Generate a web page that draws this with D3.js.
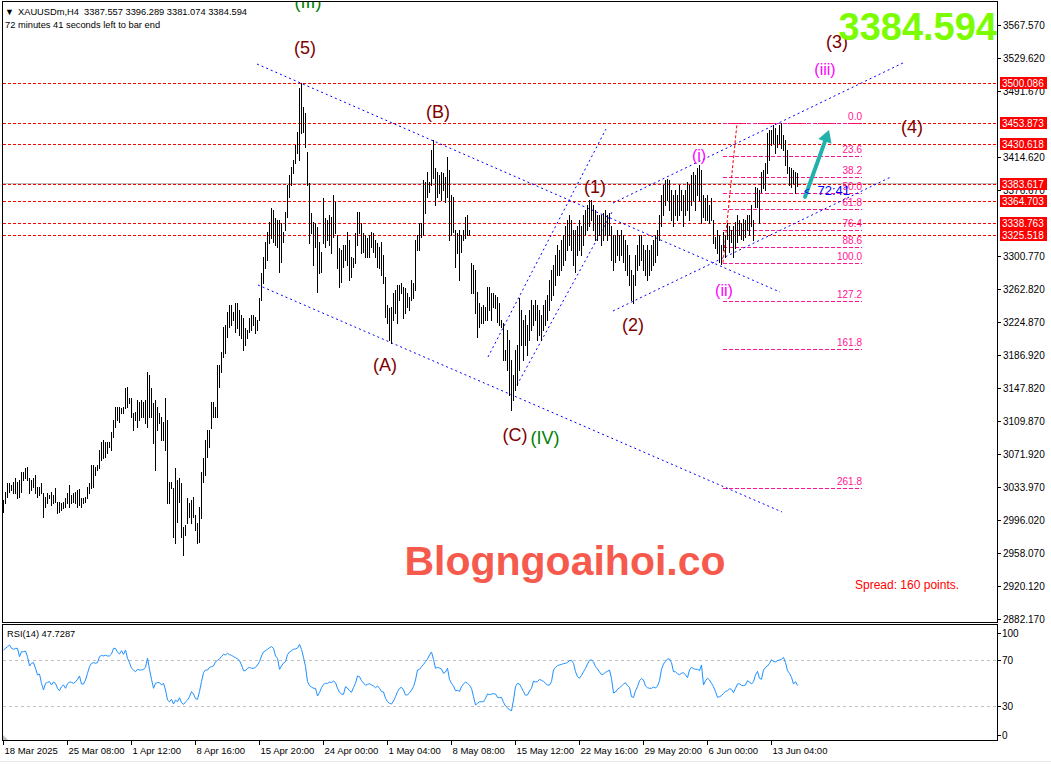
<!DOCTYPE html>
<html>
<head>
<meta charset="utf-8">
<script src="https://cdn.jsdelivr.net/npm/d3@7"></script>
<style>
body { margin: 0; background: #fff; }
svg text { font-family: "Liberation Sans", Arial, sans-serif; }
</style>
</head>
<body>
<svg id="chart" width="1051" height="764"></svg>
<script>
// H4 bars, high / low (one value per bar)
var highs = [
    3019,3028,3039,3039,3036,3040,3045,3040,3042,3051,
    3051,3056,3057,3045,3042,3045,3048,3034,3034,3039,
    3027,3022,3027,3025,3028,3025,3033,3017,3017,3015,
    3017,3021,3027,3036,3025,3027,3028,3030,3032,3021,
    3021,3022,3034,3039,3059,3059,3057,3059,3077,3086,
    3088,3086,3086,3086,3097,3111,3126,3126,3126,3125,
    3126,3148,3149,3137,3137,3119,3121,3134,3132,3134,
    3132,3134,3167,3163,3148,3131,3134,3126,3119,3115,
    3109,3137,3111,3040,3040,3033,3056,3042,3045,3039,
    2988,2990,3021,3015,3019,3022,3002,2992,3011,3051,
    3067,3088,3100,3100,3132,3132,3126,3175,3175,3190,
    3219,3221,3236,3244,3244,3236,3246,3246,3238,3233,
    3229,3218,3215,3229,3233,3233,3230,3227,3252,3281,
    3300,3317,3328,3340,3356,3354,3345,3342,3342,3339,
    3328,3352,3383,3394,3404,3412,3429,3444,3495,3500.1,
    3473,3466,3421,3385,3350,3340,3339,3334,3317,3305,
    3368,3345,3342,3348,3346,3371,3363,3325,3310,3308,
    3313,3313,3328,3319,3300,3298,3327,3352,3352,3339,
    3327,3325,3322,3325,3328,3327,3319,3316,3311,3317,
    3302,3277,3244,3241,3242,3258,3262,3267,3267,3270,
    3265,3264,3258,3253,3273,3270,3319,3325,3339,3339,
    3389,3386,3398,3386,3423,3435,3402,3398,3394,3398,
    3397,3392,3415,3400,3371,3369,3331,3327,3331,3325,
    3331,3346,3348,3331,3293,3290,3285,3259,3246,3242,
    3244,3242,3265,3265,3258,3258,3256,3253,3246,3227,
    3223,3192,3215,3204,3181,3163,3192,3198,3252,3238,
    3227,3233,3221,3238,3250,3244,3250,3244,3238,3233,
    3244,3250,3256,3273,3285,3290,3302,3313,3308,3319,
    3325,3336,3342,3348,3342,3331,3331,3336,3342,3336,
    3348,3354,3360,3365,3365,3360,3354,3348,3348,3348,
    3351,3354,3348,3351,3336,3325,3325,3331,3325,3331,
    3325,3319,3313,3302,3285,3279,3302,3313,3325,3325,
    3313,3308,3313,3308,3313,3319,3325,3331,3348,3371,
    3383,3388,3390,3388,3377,3371,3377,3371,3383,3377,
    3371,3377,3386,3383,3394,3398,3394,3402,3406,3400,
    3371,3368,3371,3360,3368,3342,3323,3331,3325,3313,
    3328,3325,3339,3336,3331,3336,3340,3348,3342,3339,
    3344,3342,3348,3348,3360,3342,3380,3379,3377,3398,
    3400,3408,3443,3446,3446,3452,3449,3440,3452,3453.9,
    3440,3435,3423,3404,3402,3400,3398,3396.3
];
var lows = [
    3005,3015,3022,3028,3030,3027,3027,3021,3022,3028,
    3042,3044,3042,3027,3030,3034,3027,3022,3025,3027,
    2999,3011,3015,3021,3013,3015,3017,3004,3005,3007,
    3010,3011,3015,3011,3015,3017,3015,3011,3013,3011,
    3015,3017,3021,3027,3033,3034,3048,3054,3056,3065,
    3067,3069,3073,3080,3077,3092,3103,3111,3109,3119,
    3119,3125,3126,3131,3115,3100,3111,3103,3111,3115,
    3115,3108,3103,3115,3115,3085,3054,3100,3108,3088,
    3088,3077,3015,3015,3033,2976,2969,2994,3017,2976,
    2955,2979,2992,2999,2992,2999,2984,2969,2970,2998,
    3040,3048,3069,3080,3102,3115,3115,3115,3149,3167,
    3184,3189,3207,3219,3221,3227,3213,3218,3210,3206,
    3192,3198,3206,3213,3215,3221,3212,3215,3227,3250,
    3270,3287,3296,3316,3322,3317,3313,3311,3282,3294,
    3317,3331,3346,3369,3383,3397,3408,3420,3412,3443,
    3444,3427,3383,3316,3327,3290,3311,3259,3281,3282,
    3316,3311,3319,3313,3304,3323,3327,3287,3265,3271,
    3288,3296,3290,3273,3277,3288,3293,3313,3327,3304,
    3305,3300,3300,3300,3311,3305,3300,3288,3287,3279,
    3270,3230,3223,3204,3200,3227,3235,3223,3250,3258,
    3229,3235,3242,3238,3250,3252,3262,3308,3308,3323,
    3325,3351,3369,3375,3383,3391,3360,3369,3374,3365,
    3377,3363,3369,3319,3325,3328,3288,3304,3273,3305,
    3319,3322,3325,3325,3258,3258,3235,3207,3219,3223,
    3224,3227,3227,3238,3227,3242,3241,3225,3221,3219,
    3181,3181,3169,3140,3123,3134,3146,3152,3169,3198,
    3181,3198,3186,3204,3215,3221,3227,3204,3210,3204,
    3215,3221,3227,3238,3250,3256,3267,3279,3279,3285,
    3290,3296,3308,3313,3308,3290,3282,3302,3308,3302,
    3313,3325,3331,3336,3342,3331,3319,3319,3325,3313,
    3319,3325,3319,3325,3296,3285,3294,3302,3296,3302,
    3294,3285,3279,3267,3250,3246,3267,3285,3290,3296,
    3285,3279,3273,3279,3285,3290,3294,3302,3319,3336,
    3348,3360,3365,3354,3342,3336,3348,3342,3348,3354,
    3336,3348,3354,3342,3360,3365,3354,3371,3365,3339,
    3346,3342,3342,3339,3342,3316,3310,3304,3294,3292,
    3308,3300,3321,3305,3317,3300,3310,3317,3325,3321,
    3319,3323,3331,3325,3336,3319,3357,3357,3339,3375,
    3379,3377,3397,3412,3429,3431,3420,3427,3431,3425,
    3423,3406,3397,3383,3380,3385,3374,3381.1
];
// RSI(14), one value per bar
var rsiValues = [
    78.7,80.1,81.6,83,80.1,79.3,80.1,80.1,72.9,77.2,
    77.2,77.8,72.9,64.8,67.1,67.7,62.8,57,57.8,49.7,
    43.9,49.7,50.6,51.2,48.3,50.9,49.7,45.4,43.3,46.8,
    48.3,45.4,49.1,50.9,50.6,49.7,50.9,53.2,56.1,49.1,
    49.1,52.6,58.4,64.2,67.1,67.7,67.1,67.7,72.9,74.1,
    73.5,74.1,73.5,73.5,75.2,80.1,80.1,76.7,75.2,78.1,
    74.9,78.7,71.5,67.7,62.8,61.3,59.8,61.9,61.3,61.3,
    61.9,63.6,71.5,61.9,53.2,45.4,49.7,50.3,50.3,48.3,
    49.7,43.9,35.2,33.7,35.8,31.7,35.2,33.7,37.2,32.9,
    31.4,33.5,35.2,38.1,42.5,40.4,36.4,35.8,42.5,51.2,
    59,61.3,61.3,63.6,64.2,64.8,68.5,69.7,70.9,72.9,
    74.9,74.4,75.8,74.6,74.1,72.9,72,70.9,69.4,65.7,
    60.7,60.7,62.8,63.6,62.8,62.8,63.6,65.7,68.5,73.5,
    77,78.1,79.3,80.7,81.6,80.1,73.5,71.5,61.9,64.8,
    67.4,68.5,74.6,77,78.1,79.3,79.6,80.4,83.6,79.3,
    72.3,64.2,51.2,47.7,46.5,45.4,45.4,38.7,41.6,45.9,
    48.8,49.7,49.7,50.9,50.3,51.7,50.3,45.4,41.9,40.4,
    40.1,46.8,45.6,43.3,41.9,46.2,49.7,56.1,55.5,52,
    50,48,48.8,49.4,48.3,47.4,45.9,47.4,45.4,42.5,
    42.2,36.7,33.7,32.3,31.7,34.3,38.1,42.5,45.4,46.2,
    43.9,39.6,39.6,41.6,43.9,46.8,52.6,61.3,61.9,64.2,
    66.2,68.5,70.9,74.4,77,70.6,62.8,63.6,63,62.2,
    58.4,59.6,62.8,53.2,49.7,47.4,43.3,43.6,42.7,46.8,
    49.1,50.9,49.7,48,45.4,38.1,30.9,32.3,33.7,33.7,
    33.7,36.7,40.4,39.8,40.4,40.7,40.4,37.5,37.2,37.5,
    33.2,30,28.5,26.5,25.9,35.2,46.8,49.7,49.1,45.9,
    42.5,39.3,39.6,43,45.4,51.7,50.9,51.2,53.2,52.3,
    51.4,49.7,48.3,48.3,51.2,61.3,63.6,65.1,65.7,66.2,
    66.8,67.1,68,69.4,69.7,67.1,59.8,55.5,54.1,56.7,
    59.8,62.8,66.5,69.7,70,68.3,64.2,62.2,59.6,57.2,
    57.8,59.3,60.1,61.3,54.1,41.3,42.2,44.5,45.9,47.4,
    49.1,50.3,47.7,46.2,38.1,37.5,43.3,46.8,52,53.8,
    52.6,47.4,45.9,45.4,45.4,46.5,45.6,47.4,52,61.9,
    66.5,68.8,70.9,70.9,67.7,59.8,59.8,58.1,57.2,58.4,
    59,57,54.6,61.3,63.6,62.5,61.9,61.9,60.7,65.7,
    48.3,52,54.1,52.6,49.7,46.8,42.5,37.5,38.1,39,
    41,42.7,43.3,45,44.5,41.6,45.4,49.1,49.4,48,
    47.7,48.3,52,50.9,49.1,51.2,57,60.1,54.1,53.2,
    61.3,63.6,64.8,67.1,70.3,68.5,68.5,69.4,70,70.6,
    72.3,67.7,60.7,58.4,54.9,49.1,51.2,47.73
];

var priceTicks = ["3567.570","3529.620","3491.670","3414.620","3376.670","3300.770","3262.820",
    "3224.870","3186.920","3147.820","3109.870","3071.920","3033.970","2996.020","2958.070",
    "2920.120","2882.170"];
var rsiTicks = [100, 70, 30, 0];
var rsiLevels = [70, 30];
var dateLabels = ["18 Mar 2025","25 Mar 08:00","1 Apr 12:00","8 Apr 16:00","15 Apr 20:00",
    "24 Apr 00:00","1 May 04:00","8 May 08:00","15 May 12:00","22 May 16:00","29 May 20:00",
    "6 Jun 00:00","13 Jun 04:00"];
var dateBars = [0,32,64,96,128,160,192,224,256,288,320,352,384];
var levelPrices = [3500.086, 3453.873, 3430.618, 3383.617, 3364.703, 3338.763, 3325.518];
var lastPrice = 3384.594;
var headerText = "XAUUSDm,H4  3387.557 3396.289 3381.074 3384.594";
var timerText = "72 minutes 41 seconds left to bar end";
var rsiText = "RSI(14) 47.7287";

// fibo retracement
var fibLevels = [0, 23.6, 38.2, 50, 61.8, 76.4, 88.6, 100, 127.2, 161.8, 261.8];
var fibLabels = ["0.0","23.6","38.2","50.0","61.8","76.4","88.6","100.0","127.2","161.8","261.8"];
var fibHigh = 3453.873, fibLow = 3293.1;
var fibBars = [359.75, 429.25];

// wave counts: [text, bar, price, colour, size]
var waveLabels = [
    ["(III)", 152.25, 3587.2, "#008000", 18],
    ["(5)", 150.75, 3534.1, "#800000", 18],
    ["(B)", 217.25, 3460.2, "#800000", 18],
    ["(A)", 190.75, 3168.0, "#800000", 18],
    ["(C)", 255.75, 3087.2, "#800000", 18],
    ["(IV)", 270.75, 3083.7, "#008000", 18],
    ["(1)", 295.75, 3373.6, "#800000", 18],
    ["(2)", 314.75, 3214.2, "#800000", 18],
    ["(3)", 416.75, 3541.0, "#800000", 18],
    ["(4)", 454.25, 3442.8, "#800000", 18],
    ["(i)", 347.75, 3410.5, "#ff00ff", 16],
    ["(ii)", 360.25, 3254.6, "#ff00ff", 16],
    ["(iii)", 410.75, 3509.8, "#ff00ff", 16]
];
// blue dotted trend lines: [bar1, price1, bar2, price2]
var trendLines = [
    [126.75, 3522.5, 388.25, 3259.2],
    [127.25, 3267.3, 389.25, 3005.2],
    [242.25, 3184.2, 301.25, 3447.5],
    [256.75, 3151.8, 304.25, 3351.6],
    [304.75, 3237.3, 443.75, 3392.1],
    [304.75, 3362.0, 450.75, 3524.9]
];
var fibDiagonal = [359.75, fibLow, 366.75, fibHigh];
var arrowLine = [400.75, 3369, 412.75, 3446.3];

var svg = d3.select("#chart");
var W = 1051, H = 764;
var axisX = 997;
var main = { top: 1, bottom: 622 };
var sub = { top: 624, bottom: 740 };

var xScale = d3.scaleLinear().domain([0, 397]).range([3.5, 797.5]);
var yScale = d3.scaleLinear().domain([3567.57, 2882.17]).range([25, 618.5]);
var rsiScale = d3.scaleLinear().domain([0, 100]).range([740.5, 625.5]);

svg.append("rect").attr("width", W).attr("height", H).attr("fill", "#fff");

var defs = svg.append("defs");
defs.append("clipPath").attr("id", "mainClip").append("rect")
    .attr("x", 3).attr("y", 2).attr("width", axisX - 3).attr("height", main.bottom - 2);
defs.append("clipPath").attr("id", "subClip").append("rect")
    .attr("x", 3).attr("y", sub.top + 1).attr("width", axisX - 3).attr("height", sub.bottom - sub.top - 1);

var plot = svg.append("g").attr("clip-path", "url(#mainClip)");

// horizontal levels
plot.append("line")
    .attr("x1", 3).attr("x2", axisX)
    .attr("y1", Math.round(yScale(lastPrice)) + 0.5).attr("y2", Math.round(yScale(lastPrice)) + 0.5)
    .attr("stroke", "#c0c0c0");
plot.selectAll("line.level").data(levelPrices).enter().append("line")
    .attr("class", "level")
    .attr("x1", 3).attr("x2", axisX)
    .attr("y1", function (d) { return Math.round(yScale(d)) + 0.5; })
    .attr("y2", function (d) { return Math.round(yScale(d)) + 0.5; })
    .attr("stroke", "#ff0000").attr("stroke-dasharray", "3,2");

// fibo
plot.selectAll("line.fib").data(fibLevels).enter().append("line")
    .attr("class", "fib")
    .attr("x1", xScale(fibBars[0])).attr("x2", xScale(fibBars[1]))
    .attr("y1", function (d) { return Math.round(yScale(fibHigh - (fibHigh - fibLow) * d / 100)) + 0.5; })
    .attr("y2", function (d) { return Math.round(yScale(fibHigh - (fibHigh - fibLow) * d / 100)) + 0.5; })
    .attr("stroke", "#ff1493").attr("stroke-dasharray", "4,2");
plot.selectAll("text.fib").data(fibLevels).enter().append("text")
    .attr("class", "fib")
    .attr("x", xScale(fibBars[1])).attr("text-anchor", "end")
    .attr("y", function (d) { return yScale(fibHigh - (fibHigh - fibLow) * d / 100) - 3; })
    .attr("font-size", 10).attr("fill", "#ff1493")
    .text(function (d, i) { return fibLabels[i]; });
plot.append("line")
    .attr("x1", xScale(fibDiagonal[0])).attr("y1", yScale(fibDiagonal[1]))
    .attr("x2", xScale(fibDiagonal[2])).attr("y2", yScale(fibDiagonal[3]))
    .attr("stroke", "#ff0000").attr("stroke-dasharray", "3,2");

// trend lines
plot.selectAll("line.trend").data(trendLines).enter().append("line")
    .attr("class", "trend")
    .attr("x1", function (d) { return xScale(d[0]); })
    .attr("y1", function (d) { return yScale(d[1]); })
    .attr("x2", function (d) { return xScale(d[2]); })
    .attr("y2", function (d) { return yScale(d[3]); })
    .attr("stroke", "#0000ff").attr("stroke-dasharray", "2,3");

// price bars
plot.selectAll("line.bar").data(highs).enter().append("line")
    .attr("class", "bar")
    .attr("x1", function (d, i) { return xScale(i); })
    .attr("x2", function (d, i) { return xScale(i); })
    .attr("y1", function (d) { return Math.round(yScale(d)); })
    .attr("y2", function (d, i) { return Math.round(yScale(lows[i])) + 1; })
    .attr("stroke", "#000").attr("stroke-width", 1);

// wave labels
plot.selectAll("text.wave").data(waveLabels).enter().append("text")
    .attr("class", "wave")
    .attr("x", function (d) { return xScale(d[1]); })
    .attr("y", function (d) { return yScale(d[2]); })
    .attr("text-anchor", "middle")
    .attr("font-size", function (d) { return d[4]; })
    .attr("fill", function (d) { return d[3]; })
    .text(function (d) { return d[0]; });

// arrow
var ax1 = xScale(arrowLine[0]), ay1 = yScale(arrowLine[1]);
var ax2 = xScale(arrowLine[2]), ay2 = yScale(arrowLine[3]);
var ang = Math.atan2(ay2 - ay1, ax2 - ax1);
var headLen = 12, headW = 7;
var bx = ax2 - headLen * Math.cos(ang), by = ay2 - headLen * Math.sin(ang);
plot.append("line")
    .attr("x1", ax1).attr("y1", ay1).attr("x2", bx).attr("y2", by)
    .attr("stroke", "#20b2aa").attr("stroke-width", 4).attr("stroke-linecap", "round");
plot.append("path")
    .attr("d", "M" + ax2 + "," + ay2 +
        "L" + (bx + headW * Math.sin(ang)) + "," + (by - headW * Math.cos(ang)) +
        "L" + (bx - headW * Math.sin(ang)) + "," + (by + headW * Math.cos(ang)) + "Z")
    .attr("fill", "#20b2aa");

// bar timer near the last bar
plot.append("text").attr("x", xScale(400.25)).attr("y", yScale(3371.2))
    .attr("font-size", 10).attr("fill", "#0000ff").text("<");
plot.append("text").attr("x", xScale(407)).attr("y", yScale(3371.2))
    .attr("font-size", 13).attr("fill", "#0000ff").text("72:41");

// header
svg.append("text").attr("x", 5).attr("y", 15).attr("font-size", 9).text("\u25BC");
svg.append("text").attr("x", 18).attr("y", 15).attr("font-size", 9.3).attr("xml:space", "preserve").text(headerText);
svg.append("text").attr("x", 5).attr("y", 28).attr("font-size", 9.3).text(timerText);

// big last price
svg.append("text").attr("x", axisX).attr("y", 40).attr("text-anchor", "end")
    .attr("font-size", 38).attr("font-weight", "bold").attr("fill", "#7cfc00")
    .text(lastPrice.toFixed(3));

// watermark + spread
svg.append("text").attr("x", 565).attr("y", 575).attr("text-anchor", "middle")
    .attr("font-size", 41).attr("font-weight", "bold").attr("fill", "#f65a4c")
    .text("Blogngoaihoi.co");
svg.append("text").attr("x", 855).attr("y", 589).attr("font-size", 12).attr("fill", "#ff0000")
    .text("Spread: 160 points.");

// RSI panel
var rsiG = svg.append("g").attr("clip-path", "url(#subClip)");
rsiG.selectAll("line.rl").data(rsiLevels).enter().append("line")
    .attr("x1", 3).attr("x2", axisX)
    .attr("y1", function (d) { return Math.round(rsiScale(d)) + 0.5; })
    .attr("y2", function (d) { return Math.round(rsiScale(d)) + 0.5; })
    .attr("stroke", "#c0c0c0").attr("stroke-dasharray", "3,3");
rsiG.append("path").datum(rsiValues)
    .attr("d", d3.line().x(function (d, i) { return xScale(i); }).y(function (d) { return rsiScale(d); }))
    .attr("fill", "none").attr("stroke", "#1e90ff").attr("stroke-width", 1);
svg.append("text").attr("x", 7).attr("y", 637).attr("font-size", 9.3).text(rsiText);
svg.append("path").attr("d", "M3,741L3,735L9,741Z").attr("fill", "#c0c0c0");

// frames
svg.append("rect").attr("x", 2.5).attr("y", main.top + 0.5).attr("width", axisX - 2)
    .attr("height", main.bottom - main.top).attr("fill", "none").attr("stroke", "#000");
svg.append("rect").attr("x", 2.5).attr("y", sub.top + 0.5).attr("width", axisX - 2)
    .attr("height", sub.bottom - sub.top).attr("fill", "none").attr("stroke", "#000");

// price axis
var pa = svg.append("g");
pa.selectAll("line").data(priceTicks).enter().append("line")
    .attr("x1", axisX).attr("x2", axisX + 4)
    .attr("y1", function (d) { return Math.round(yScale(+d)) + 0.5; })
    .attr("y2", function (d) { return Math.round(yScale(+d)) + 0.5; })
    .attr("stroke", "#000");
pa.selectAll("text").data(priceTicks).enter().append("text")
    .attr("x", axisX + 6).attr("y", function (d) { return yScale(+d) + 4; })
    .attr("font-size", 10).text(function (d) { return d; });

// red level tags
var tags = svg.selectAll("g.tag").data(levelPrices).enter().append("g").attr("class", "tag");
tags.append("rect").attr("x", axisX + 3).attr("width", 47).attr("height", 12)
    .attr("y", function (d) { return Math.round(yScale(d)) - 6; }).attr("fill", "#ff0000");
tags.append("text").attr("x", axisX + 5).attr("y", function (d) { return Math.round(yScale(d)) + 4; })
    .attr("font-size", 10).attr("fill", "#fff").text(function (d) { return d.toFixed(3); });

// RSI axis
var ra = svg.append("g");
ra.selectAll("line").data(rsiTicks).enter().append("line")
    .attr("x1", axisX).attr("x2", axisX + 4)
    .attr("y1", function (d) { return Math.round(Math.max(633, Math.min(735, rsiScale(d)))) + 0.5; })
    .attr("y2", function (d) { return Math.round(Math.max(633, Math.min(735, rsiScale(d)))) + 0.5; })
    .attr("stroke", "#000");
ra.selectAll("text").data(rsiTicks).enter().append("text")
    .attr("x", axisX + 5)
    .attr("y", function (d) { return Math.max(633, Math.min(735, rsiScale(d))) + 4; })
    .attr("font-size", 10).text(function (d) { return d; });

// time axis
var ta = svg.append("g");
ta.selectAll("line").data(dateBars).enter().append("line")
    .attr("x1", function (d) { return xScale(d); }).attr("x2", function (d) { return xScale(d); })
    .attr("y1", sub.bottom + 1).attr("y2", sub.bottom + 5).attr("stroke", "#000");
ta.selectAll("text").data(dateBars).enter().append("text")
    .attr("x", function (d) { return xScale(d) + 1; }).attr("y", 754)
    .attr("font-size", 9.5).text(function (d, i) { return dateLabels[i]; });
svg.append("line").attr("x1", 0).attr("x2", W).attr("y1", 761.5).attr("y2", 761.5).attr("stroke", "#e6e6e6");
</script>
</body>
</html>
